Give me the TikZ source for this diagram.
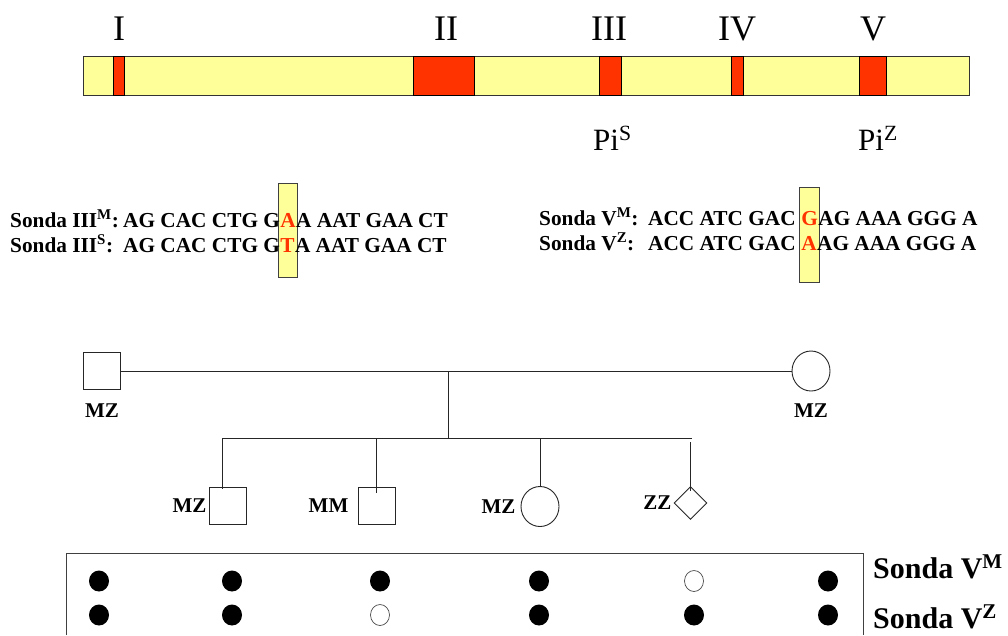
\documentclass[tikz,border=0pt]{standalone}
\usepackage{fontspec}
\setmainfont{Liberation Serif}
\usetikzlibrary{shapes.geometric,backgrounds}
\definecolor{pale}{HTML}{FFFF99}
\definecolor{exon}{HTML}{FF3300}
\begin{document}
\begin{tikzpicture}[x=1pt,y=-1pt,
  roman/.style={font=\fontsize{36}{40}\selectfont, inner sep=0, anchor=base},
  pilab/.style={font=\fontsize{31}{34}\selectfont, inner sep=0, anchor=base west},
  seq/.style={font=\bfseries\fontsize{21.3}{25}\selectfont, inner sep=0, anchor=base west},
  mut/.style={seq, text=exon},
  hlbox/.style={draw=black!75, fill=pale, line width=0.8pt},
  barbox/.style={draw=black!80, fill=pale, line width=0.9pt},
  exonbox/.style={draw=black, fill=exon, line width=0.8pt},
  ped/.style={draw=black!85, line width=0.9pt},
  sq/.style={ped, rectangle, minimum width=37pt, minimum height=37pt, inner sep=0},
  ci/.style={ped, ellipse, minimum width=38pt, minimum height=40pt, inner sep=0},
  dia/.style={ped, diamond, minimum width=33pt, minimum height=33pt, inner sep=0},
  lab/.style={font=\bfseries\fontsize{21}{25}\selectfont, inner sep=0},
  dotf/.style={ellipse, fill=black, minimum width=20pt, minimum height=21pt, inner sep=0},
  doto/.style={ellipse, draw=black!70, fill=white, line width=0.7pt, minimum width=19pt, minimum height=21pt, inner sep=0},
  sondalab/.style={font=\bfseries\fontsize{30}{34}\selectfont, inner sep=0, anchor=base west},
]
\useasboundingbox (0,0) rectangle (1008,635);

% gene bar
\draw[barbox] (83,56) rectangle (969,95);
\foreach \a/\b in {113/124, 413/474, 599/621, 731/743, 859/886}
  \draw[exonbox] (\a,56) rectangle (\b,95);
\node[roman] (rI) at (119,40) {I};
\node[roman] (rII) at (446,40) {II};
\node[roman] (rIII) at (609,40) {III};
\node[roman] (rIV) at (737,40) {IV};
\node[roman] (rV) at (873,40) {V};
\node[pilab] (piS) at (593,150) {Pi\textsuperscript{S}};
\node[pilab] (piZ) at (858,150) {Pi\textsuperscript{Z}};

% sequences left
\node[seq] (s1l) at (10,227) {Sonda III\textsuperscript{M}:};
\node[seq] (s1a) at (123,227) {AG CAC CTG G};
\node[mut] (s1b) at (s1a.base east) {A};
\node[seq] (s1c) at (s1b.base east) {A AAT GAA CT};
\node[seq] (s2l) at (10,252) {Sonda III\textsuperscript{S}:};
\node[seq] (s2a) at (123,252) {AG CAC CTG G};
\node[mut] (s2b) at (s2a.base east) {T};
\node[seq] (s2c) at (s2b.base east) {A AAT GAA CT};
% sequences right
\node[seq] (s3l) at (539,225) {Sonda V\textsuperscript{M}:};
\node[seq] (s3a) at (648,225) {ACC ATC GAC};
\node[mut] (s3b) at ([xshift=5.3pt]s3a.base east) {G};
\node[seq] (s3c) at (s3b.base east) {AG AAA GGG A};
\node[seq] (s4l) at (539,250) {Sonda V\textsuperscript{Z}:};
\node[seq] (s4a) at (648,250) {ACC ATC GAC};
\node[mut] (s4b) at ([xshift=5.3pt]s4a.base east) {A};
\node[seq] (s4c) at (s4b.base east) {AG AAA GGG A};

\begin{scope}[on background layer]
  \coordinate (h1l) at ([xshift=-1.5pt]s1b.west);
  \coordinate (h1r) at ([xshift=1.5pt]s1b.east);
  \coordinate (h2l) at ([xshift=-1.5pt]s3b.west);
  \coordinate (h2r) at ([xshift=1.5pt]s3b.east);
  \draw[hlbox] (h1l |- 0,183) rectangle (h1r |- 0,277);
  \draw[hlbox] (h2l |- 0,187) rectangle (h2r |- 0,282);
\end{scope}

% pedigree
\node[sq] (fa) at (102,371) {};
\node[ci] (mo) at (811,371) {};
\draw[ped] (fa.east) -- (mo.west);
\coordinate (mid) at (448,371);
\coordinate (sibL) at (222,438);
\coordinate (sibR) at (692,438);
\draw[ped] (mid) -- (mid |- sibL);
\draw[ped] (sibL) -- (sibR);
\node[sq] (c1) at (227.5,505.5) {};
\node[sq] (c2) at (376.5,505.5) {};
\node[ci] (c3) at (540,506.5) {};
\node[dia] (c4) at (690.5,503) {};
\draw[ped] (sibL) -- (sibL |- 0,489);
\draw[ped] (c2.north |- sibL) -- ([yshift=-6pt]c2.north);
\draw[ped] (c3.north |- sibL) -- (c3.north);
\draw[ped] (c4.north |- 0,442) -- ([yshift=-5pt]c4.north);
\node[lab, anchor=north] (lfa) at ([yshift=-14pt]fa.south) {MZ};
\node[lab, anchor=north] (lmo) at ([yshift=-12pt]mo.south) {MZ};
\node[lab, anchor=east] (lc1) at ([xshift=-2pt]c1.west) {MZ};
\node[lab, anchor=east] (lc2) at ([xshift=-9pt]c2.west) {MM};
\node[lab, anchor=east] (lc3) at ([xshift=-5pt]c3.west) {MZ};
\node[lab, anchor=east] (lc4) at ([xshift=-2pt]c4.west) {ZZ};

% dot blot
\draw[line width=1pt, draw=black!75] (66,635) -- (66,553) -- (863,553) -- (863,635);
\node[dotf] (a1) at (99,581) {};
\node[dotf] (a2) at (232,581) {};
\node[dotf] (a3) at (380,581) {};
\node[dotf] (a4) at (539,581) {};
\node[doto] (a5) at (694,581) {};
\node[dotf] (a6) at (828,581) {};
\node[dotf] (b1) at (99,615) {};
\node[dotf] (b2) at (232,615) {};
\node[doto] (b3) at (380,615) {};
\node[dotf] (b4) at (539,615) {};
\node[dotf] (b5) at (694,615) {};
\node[dotf] (b6) at (828,615) {};
\node[sondalab] (sVM) at (873,578) {Sonda V\textsuperscript{M}};
\node[sondalab] (sVZ) at (873,628) {Sonda V\textsuperscript{Z}};
\end{tikzpicture}
\end{document}
